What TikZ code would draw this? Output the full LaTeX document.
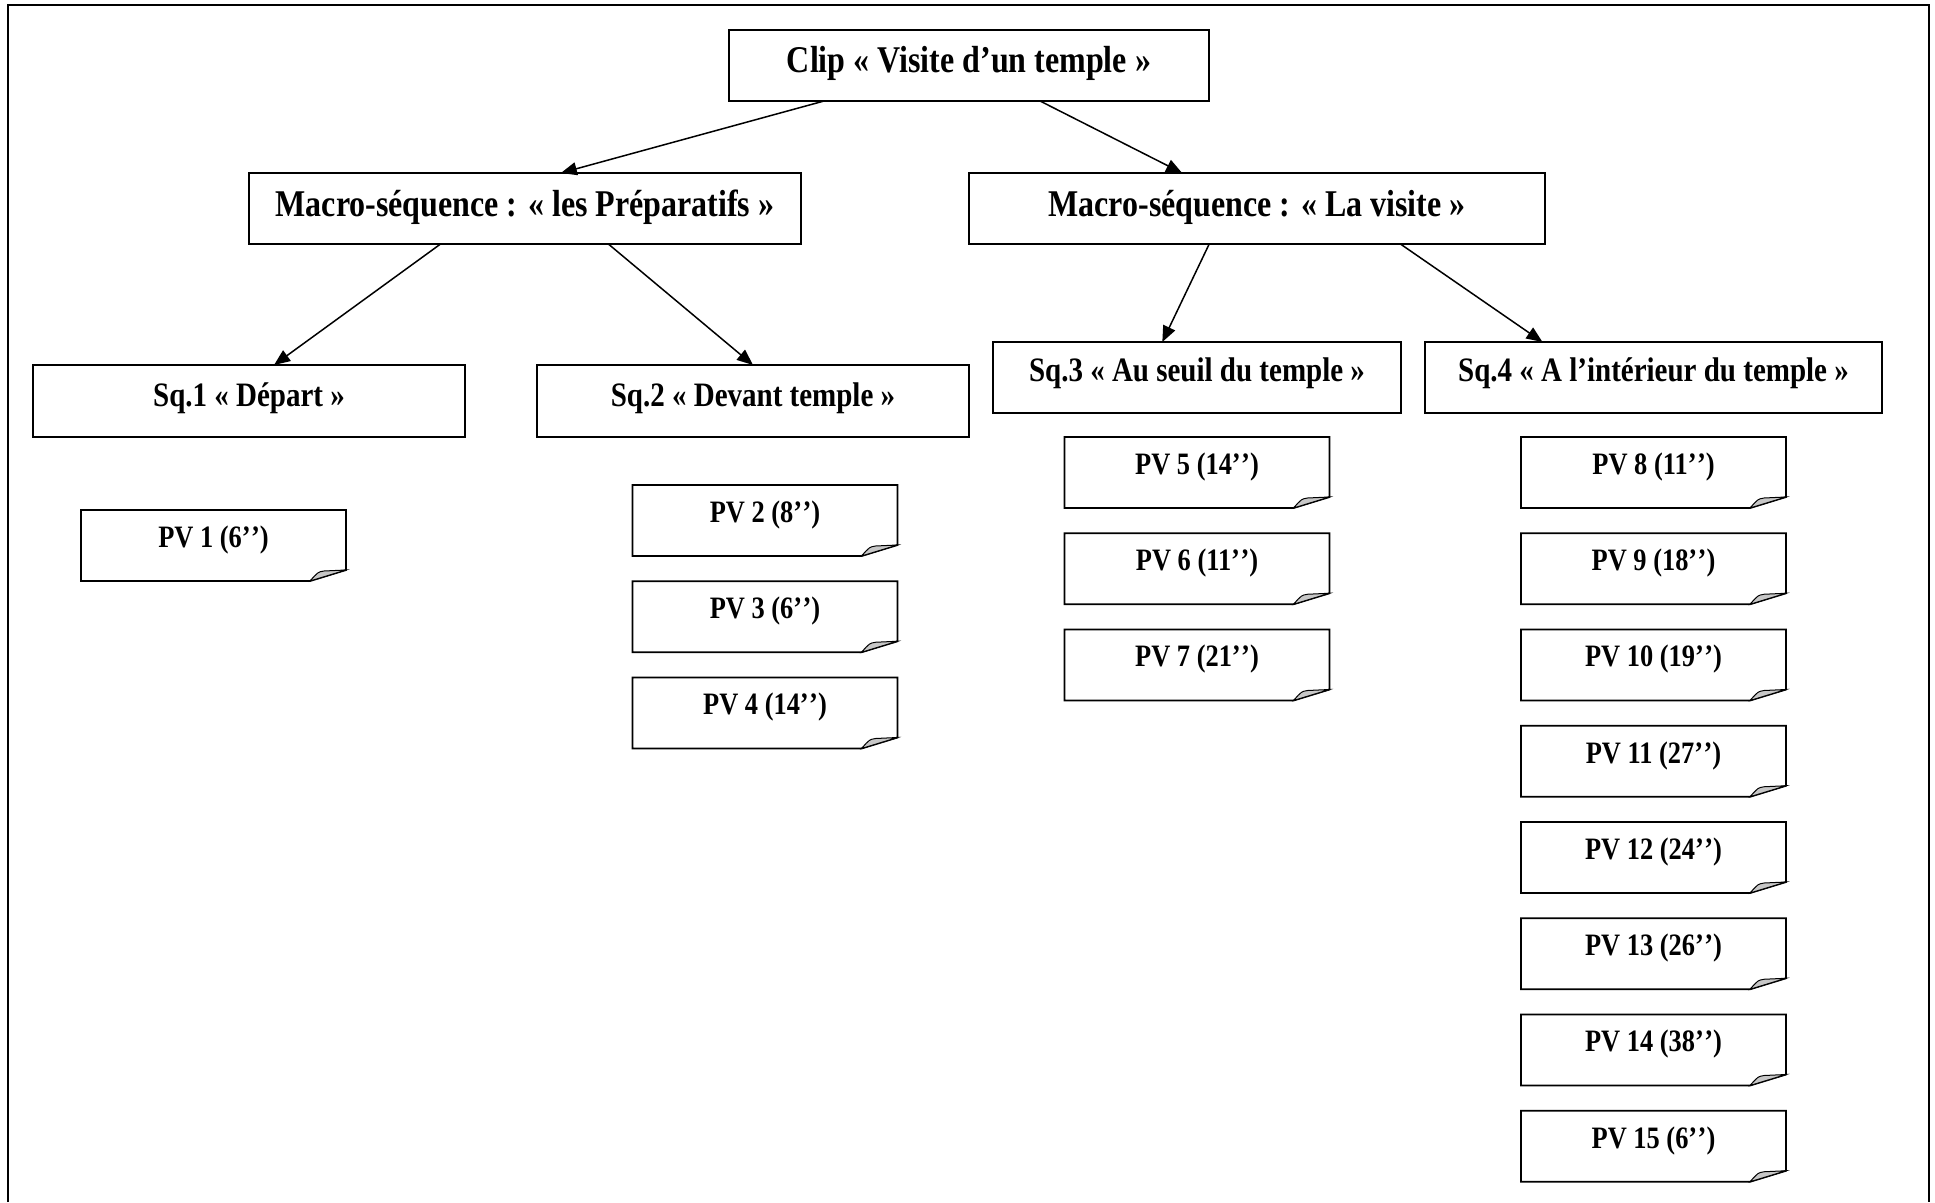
\documentclass[tikz,border=0pt]{standalone}
\usepackage{fontspec}
\usepackage{graphicx}
\setmainfont{Liberation Serif}
\usetikzlibrary{calc,arrows.meta}

\newcommand\tall[1]{\scalebox{1}[1.18]{#1}}

\tikzset{
  box/.style={draw, line width=1.8pt, outer sep=0pt, inner sep=0pt, text depth=0pt},
  bigbox/.style={box, text height=16pt, font=\fontsize{32}{36}\selectfont\bfseries},
  sqbox/.style={box, text height=10pt, font=\fontsize{29}{33}\selectfont\bfseries},
  pvbox/.style={outer sep=0pt, inner sep=0pt, minimum width=265pt, minimum height=71pt,
    text height=3.5pt, text depth=0pt, font=\fontsize{26.4}{30}\selectfont\bfseries},
  pvline/.style={line width=1.8pt, line join=miter},
  link/.style={line width=1.5pt, -{Triangle[length=16pt,width=13pt]}}
}
% folded note outline round a pv node
\newcommand\pvfold[1]{%
  \draw[pvline] (#1.north west) -- (#1.north east) -- ($(#1.south east)+(0,-11)$)
    -- ($(#1.south east)+(-36,0)$) -- (#1.south west) -- cycle;
  \draw[line width=1pt, fill=black!22] ($(#1.south east)+(-36,0)$)
    .. controls ($(#1.south east)+(-28,-9)$) .. ($(#1.south east)+(-22,-10)$)
    -- ($(#1.south east)+(0,-11)$) -- cycle;}

\begin{document}
\begin{tikzpicture}[x=1pt, y=-1pt]
  %%%%% START %%%%%
  \useasboundingbox (0,0) rectangle (1935,1202);

  % frame
  \draw[line width=2pt] (8,1202) -- (8,5) -- (1929,5) -- (1929,1202);

  % tree
  \node[bigbox, text height=13pt, minimum width=480pt, minimum height=71pt] (clip) at (969,65.5) {\tall{Clip « Visite d’un temple »}};
  \node[bigbox, minimum width=552pt, minimum height=71pt] (prep) at (525,208.5) {\tall{Macro-séquence : « les Préparatifs »}};
  \node[bigbox, minimum width=576pt, minimum height=71pt] (visite) at (1257,208.5) {\tall{Macro-séquence : « La visite »}};

  \node[sqbox, minimum width=432pt, minimum height=72pt] (sq1) at (249,401) {\tall{Sq.1 « Départ »}};
  \node[sqbox, minimum width=432pt, minimum height=72pt] (sq2) at (753,401) {\tall{Sq.2 « Devant temple »}};
  \node[sqbox, text height=8pt, minimum width=408pt, minimum height=71pt] (sq3) at (1197,377.5) {\tall{Sq.3 « Au seuil du temple »}};
  \node[sqbox, text height=8pt, minimum width=457pt, minimum height=71pt] (sq4) at (1653.5,377.5) {\tall{Sq.4 « A l’intérieur du temple »}};

  \draw[link] ($(clip.south west)!0.198!(clip.south east)$) -- ($(prep.north west)!0.565!(prep.north east)$);
  \draw[link] ($(clip.south west)!0.648!(clip.south east)$) -- ($(visite.north west)!0.37!(visite.north east)$);
  \draw[link] ($(prep.south west)!0.347!(prep.south east)$) -- ($(sq1.north west)!0.558!(sq1.north east)$);
  \draw[link] ($(prep.south west)!0.651!(prep.south east)$) -- ($(sq2.north west)!0.5!(sq2.north east)$);
  \draw[link] ($(visite.south west)!0.417!(visite.south east)$) -- ($(sq3.north west)!0.415!(sq3.north east)$);
  \draw[link] ($(visite.south west)!0.749!(visite.south east)$) -- ($(sq4.north west)!0.257!(sq4.north east)$);

  % plans
  \node[pvbox] (pv1) at (213.5,545.5) {\tall{PV 1 (6’\kern.5pt’)}};
  \pvfold{pv1}

  \foreach \n/\t [count=\k from 0] in {2/8,3/6,4/14} {
    \node[pvbox] (pv\n) at (765,520.5+96.25*\k) {\tall{PV \n\ (\t’\kern.5pt’)}};
    \pvfold{pv\n}
  }
  \foreach \n/\t [count=\k from 0] in {5/14,6/11,7/21} {
    \node[pvbox] (pv\n) at (1197,472.5+96.25*\k) {\tall{PV \n\ (\t’\kern.5pt’)}};
    \pvfold{pv\n}
  }
  \foreach \n/\t [count=\k from 0] in {8/11,9/18,10/19,11/27,12/24,13/26,14/38,15/6} {
    \node[pvbox] (pv\n) at (1653.5,472.5+96.25*\k) {\tall{PV \n\ (\t’\kern.5pt’)}};
    \pvfold{pv\n}
  }
  %%%%% END %%%%%
\end{tikzpicture}
\end{document}
